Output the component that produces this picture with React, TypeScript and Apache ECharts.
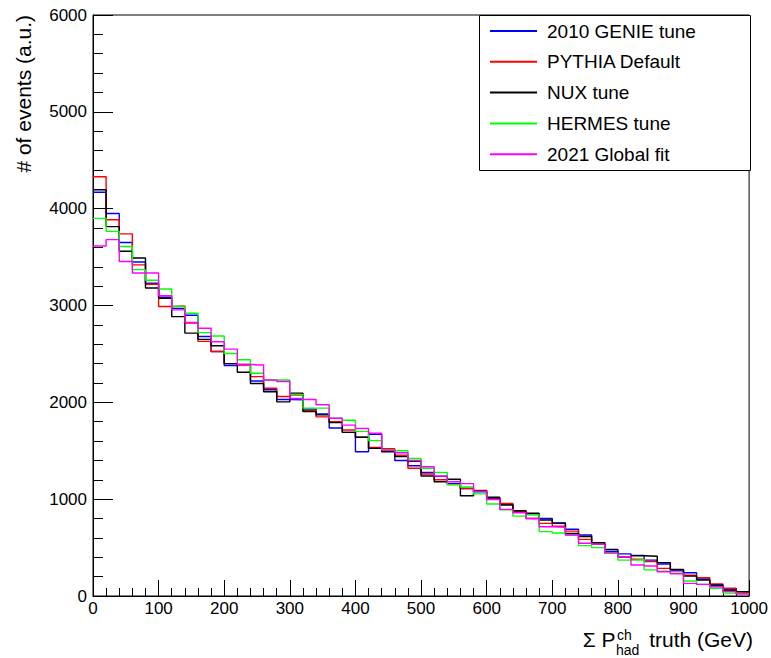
import React, { useEffect, useRef } from "react";
import * as echarts from "echarts";

// Histogram: 50 bins of 20 GeV from 0 to 1000
const BIN_WIDTH = 20;
const X_MIN = 0;
const X_MAX = 1000;

const seriesNames = ["2010 GENIE tune", "PYTHIA Default", "NUX tune", "HERMES tune", "2021 Global fit"];
const seriesColors = ["#0000ff", "#ff0000", "#000000", "#00ff00", "#ff00ff"];

const genie = [4170, 3950, 3650, 3450, 3230, 3085, 2970, 2900, 2680, 2525,
  2380, 2390, 2220, 2130, 2030, 2025, 1930, 1880, 1735, 1690,
  1490, 1670, 1510, 1400, 1345, 1275, 1235, 1160, 1110, 1075,
  1010, 950, 875, 840, 800, 750, 690, 630, 550, 460,
  435, 420, 370, 330, 260, 240, 175, 110, 70, 40];

const pythia = [4330, 3885, 3740, 3420, 3220, 2990, 2995, 2820, 2630, 2525,
  2400, 2385, 2265, 2145, 2060, 2075, 1915, 1850, 1800, 1715,
  1640, 1535, 1520, 1455, 1320, 1260, 1200, 1150, 1110, 1090,
  1000, 955, 870, 800, 750, 720, 670, 585, 535, 440,
  405, 380, 355, 285, 270, 215, 190, 125, 80, 35];

const nux = [4195, 3815, 3560, 3490, 3180, 3075, 2885, 2715, 2650, 2585,
  2400, 2310, 2195, 2110, 2005, 2095, 1905, 1870, 1790, 1690,
  1640, 1525, 1490, 1440, 1390, 1240, 1180, 1205, 1035, 1085,
  1020, 940, 880, 855, 785, 755, 645, 615, 550, 480,
  405, 415, 410, 345, 275, 205, 165, 115, 60, 45];

const hermes = [3900, 3765, 3610, 3370, 3260, 3170, 2990, 2920, 2720, 2685,
  2505, 2440, 2300, 2230, 2230, 2080, 1940, 1940, 1835, 1815,
  1700, 1605, 1510, 1500, 1420, 1320, 1275, 1150, 1125, 1055,
  950, 890, 825, 840, 665, 650, 630, 520, 500, 440,
  370, 375, 270, 255, 235, 155, 120, 80, 30, 25];

const globalFit = [3615, 3680, 3455, 3335, 3335, 3100, 2955, 2825, 2765, 2625,
  2550, 2390, 2385, 2230, 2215, 2040, 2030, 1975, 1835, 1765,
  1730, 1680, 1505, 1480, 1400, 1335, 1240, 1180, 1160, 1080,
  995, 895, 860, 800, 715, 710, 630, 545, 535, 445,
  405, 320, 310, 250, 230, 130, 120, 95, 45, 20];

const seriesValues = [genie, pythia, nux, hermes, globalFit];

const xTicks = { min: 0, max: 1000, interval: 100 };
const yTicks = { min: 0, max: 6000, interval: 1000 };

function histPoints(values: number[]): number[][] {
  const pts: number[][] = [];
  values.forEach((v, i) => pts.push([X_MIN + i * BIN_WIDTH, v]));
  const last = values[values.length - 1];
  pts.push([X_MIN + values.length * BIN_WIDTH, last]);
  return pts;
}

const FONT = "'Liberation Sans', Arial, Helvetica, sans-serif";
const plain = (v: number) => String(v);

export default function App() {
  const ref = useRef<HTMLDivElement>(null);
  useEffect(() => {
    if (!ref.current) return;
    const chart = echarts.init(ref.current, undefined, { renderer: "svg" });
    const series = seriesNames.map((name, k) => ({
      name,
      type: "line",
      step: "end",
      symbol: "none",
      showSymbol: false,
      data: histPoints(seriesValues[k]),
      itemStyle: { color: seriesColors[k] },
      lineStyle: { color: seriesColors[k], width: 1.4 },
      z: 2 + k * 0.01,
    }));
    chart.setOption({
      animation: false,
      backgroundColor: "#ffffff",
      textStyle: { fontFamily: FONT },
      grid: {
        left: 93,
        right: 20,
        top: 15,
        bottom: 62,
        show: true,
        borderColor: "#000",
        borderWidth: 1,
        backgroundColor: "transparent",
      },
      xAxis: {
        type: "value",
        min: xTicks.min,
        max: X_MAX,
        interval: xTicks.interval,
        axisLine: { show: true, lineStyle: { color: "#000", width: 1 } },
        axisTick: { show: true, inside: true, length: 16, lineStyle: { color: "#000" } },
        minorTick: { show: true, splitNumber: 5, length: 8, lineStyle: { color: "#000" } },
        splitLine: { show: false },
        minorSplitLine: { show: false },
        axisLabel: { color: "#000", fontSize: 17, fontFamily: FONT, margin: 4, showMinLabel: true, showMaxLabel: true, formatter: plain },
      },
      yAxis: {
        type: "value",
        min: yTicks.min,
        max: yTicks.max,
        interval: yTicks.interval,
        axisLine: { show: true, lineStyle: { color: "#000", width: 1 } },
        axisTick: { show: true, inside: true, length: 20, lineStyle: { color: "#000" } },
        minorTick: { show: true, splitNumber: 5, length: 10, lineStyle: { color: "#000" } },
        splitLine: { show: false },
        minorSplitLine: { show: false },
        axisLabel: { color: "#000", fontSize: 17, fontFamily: FONT, margin: 6, formatter: plain },
      },
      legend: {
        show: true,
        orient: "vertical",
        left: 490,
        top: 15.6,
        padding: 0,
        itemGap: 0,
        itemWidth: 47,
        itemHeight: 2,
        icon: "rect",
        data: seriesNames,
        selectedMode: false,
        textStyle: { color: "#000", fontSize: 19, fontFamily: FONT, lineHeight: 30.8, padding: [0, 0, 0, 5] },
        z: 10,
      },
      graphic: [
        {
          type: "rect",
          z: 5,
          shape: { x: 479.5, y: 15.5, width: 271, height: 155 },
          style: { fill: "#fff", stroke: "#000", lineWidth: 1 },
        },
        {
          type: "text",
          x: 23.7,
          y: 15,
          rotation: Math.PI / 2,
          style: {
            text: "# of events (a.u.)",
            fontSize: 21,
            fontFamily: FONT,
            fill: "#000",
            textAlign: "right",
            textVerticalAlign: "middle",
            align: "right",
            verticalAlign: "middle",
          },
        },
        {
          type: "text",
          x: 753,
          y: 639.7,
          style: {
            text: "truth (GeV)",
            fontSize: 21,
            fontFamily: FONT,
            fill: "#000",
            textAlign: "right",
            textVerticalAlign: "middle",
            align: "right",
            verticalAlign: "middle",
          },
        },
        {
          type: "text",
          x: 616,
          y: 650.1,
          style: {
            text: "had",
            fontSize: 14,
            fontFamily: FONT,
            fill: "#000",
            textAlign: "left",
            textVerticalAlign: "middle",
            align: "left",
            verticalAlign: "middle",
          },
        },
        {
          type: "text",
          x: 617,
          y: 635.1,
          style: {
            text: "ch",
            fontSize: 14,
            fontFamily: FONT,
            fill: "#000",
            textAlign: "left",
            textVerticalAlign: "middle",
            align: "left",
            verticalAlign: "middle",
          },
        },
        {
          type: "text",
          x: 615.5,
          y: 639.7,
          style: {
            text: "Σ P",
            fontSize: 21,
            fontFamily: FONT,
            fill: "#000",
            textAlign: "right",
            textVerticalAlign: "middle",
            align: "right",
            verticalAlign: "middle",
          },
        },
      ],
      series,
    });
    return () => chart.dispose();
  }, []);
  return <div ref={ref} style={{ width: 771, height: 658, position: "absolute", left: 0, top: 0 }} />;
}
